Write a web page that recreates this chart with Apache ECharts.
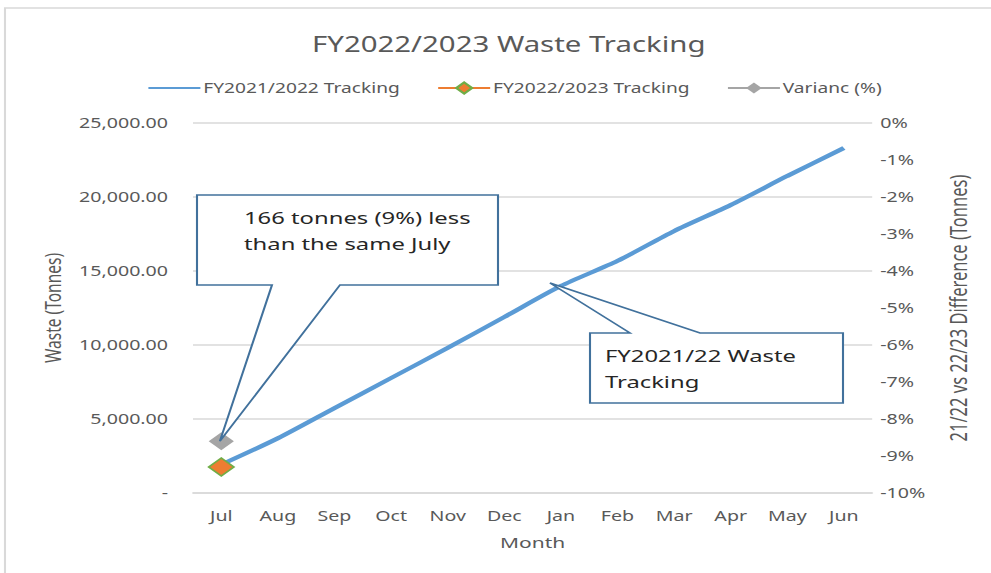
<!DOCTYPE html>
<html><head><meta charset="utf-8">
<script src="https://cdn.jsdelivr.net/npm/echarts@6/dist/echarts.min.js"></script>
<style>
html,body{margin:0;padding:0;background:#fff;overflow:hidden;}
#wrap{width:991px;height:573px;overflow:hidden;}
#c{width:708px;height:573px;transform:scaleX(1.4);transform-origin:0 0;}
</style>
</head><body><div id="wrap"><div id="c"></div></div>
<script>
const months = ['Jul','Aug','Sep','Oct','Nov','Dec','Jan','Feb','Mar','Apr','May','Jun'];
const fy2122 = [1920, 3700, 5740, 7770, 9800, 11890, 13990, 15680, 17700, 19460, 21420, 23310];
const fy2223 = [1754, null, null, null, null, null, null, null, null, null, null, null];
const variance = [-8.6, null, null, null, null, null, null, null, null, null, null, null];
const seriesNames = ['FY2021/2022 Tracking', 'FY2022/2023 Tracking', 'Varianc (%)'];
const callout1 = ['166 tonnes (9%) less', 'than the same July'];
const callout2 = ['FY2021/22 Waste', 'Tracking'];

// the reference picture is stretched horizontally; the chart is drawn narrower and widened by S
const S = 1.4;
const FONT = 'Noto Sans';
const GRAY = '#595959';
const chart = echarts.init(document.getElementById('c'), null, {renderer: 'svg'});
chart.setOption({
  animation: false,
  textStyle: {fontFamily: FONT},
  title: {text: 'FY2022/2023 Waste Tracking', left: 305 / S, top: 28,
    textStyle: {fontSize: 21, fontWeight: 'normal', color: GRAY, fontFamily: FONT}},
  legend: {top: 76, left: 140 / S, itemWidth: 52 / S, itemHeight: 14, itemGap: 37 / S,
    textStyle: {fontSize: 13.7, color: GRAY, padding: [0, 0, 0, -3]},
    data: [{name: seriesNames[0], itemStyle: {opacity: 0}}, seriesNames[1], seriesNames[2]]},
  grid: {left: 193 / S, right: (991 - 872) / S, top: 123, bottom: 80},
  xAxis: {type: 'category', data: months, boundaryGap: true,
    name: 'Month', nameLocation: 'middle', nameGap: 42,
    nameTextStyle: {fontSize: 15, color: GRAY},
    axisLine: {lineStyle: {color: '#d9d9d9', width: 1.5}}, axisTick: {show: false},
    axisLabel: {fontSize: 14, color: GRAY, margin: 16}},
  yAxis: [
    {type: 'value', min: 0, max: 25000, interval: 5000,
     name: 'Waste (Tonnes)', nameLocation: 'middle', nameGap: 126 / S,
     nameTextStyle: {fontSize: 15.5, color: GRAY},
     axisLabel: {fontSize: 14, color: GRAY, margin: 25 / S,
       formatter: v => v === 0 ? '-' : v.toLocaleString('en-US', {minimumFractionDigits: 2, maximumFractionDigits: 2})},
     splitLine: {lineStyle: {color: '#d9d9d9', width: 1.5}}},
    {type: 'value', min: -10, max: 0, interval: 1, position: 'right',
     name: '21/22 vs 22/23 Difference (Tonnes)', nameLocation: 'middle', nameGap: 74 / S,
     nameRotate: 90,
     nameTextStyle: {fontSize: 16.5, color: GRAY},
     axisLabel: {fontSize: 14, color: GRAY, margin: 8 / S, formatter: v => v + '%'},
     splitLine: {show: false}, axisLine: {show: false}, axisTick: {show: false}}
  ],
  series: [
    {name: seriesNames[0], type: 'line', data: fy2122, smooth: 0.25, showSymbol: false, symbol: 'none',
     lineStyle: {color: '#5b9bd5', width: 4}, itemStyle: {color: '#5b9bd5'}, z: 2},
    {name: seriesNames[1], type: 'line', data: fy2223, symbol: 'diamond', symbolSize: 18,
     lineStyle: {color: '#ed7d31', width: 4},
     itemStyle: {color: '#ed7d31', borderColor: '#70ad47', borderWidth: 1.5}, z: 4},
    {name: seriesNames[2], type: 'line', yAxisIndex: 1, data: variance, symbol: 'diamond', symbolSize: 18,
     lineStyle: {color: '#a5a5a5', width: 4},
     itemStyle: {color: '#a5a5a5'}, z: 3}
  ]
});

const tip1 = chart.convertToPixel({xAxisIndex: 0, yAxisIndex: 1}, [0, variance[0]]);
const P = (x, y) => [x / S, y];
const stroke = {stroke: '#41719c', lineWidth: 1.5, fill: '#fff'};
chart.setOption({
  graphic: [
    {type: 'rect', shape: {x: 5 / S, y: 8, width: 1000, height: 700}, style: {stroke: '#d9d9d9', lineWidth: 1.5, fill: 'none'}, silent: true, z: -10},
    {type: 'polygon', z: 100, shape: {points: [P(197,195), P(498,195), P(498,285), P(340,285), [tip1[0] - 1, tip1[1]], P(272,285), P(197,285)]}, style: stroke},
    {type: 'text', z: 101, left: 244 / S, top: 204, style: {text: callout1.join('\n'), font: '17px "Noto Sans"', fill: '#262626', lineHeight: 26}},
    {type: 'polygon', z: 100, shape: {points: [P(590,333), P(630,333), P(550,283), P(700,333), P(843,333), P(843,403), P(590,403)]}, style: stroke},
    {type: 'text', z: 101, left: 605 / S, top: 342, style: {text: callout2.join('\n'), font: '17px "Noto Sans"', fill: '#262626', lineHeight: 26}}
  ]
});
</script></body></html>
